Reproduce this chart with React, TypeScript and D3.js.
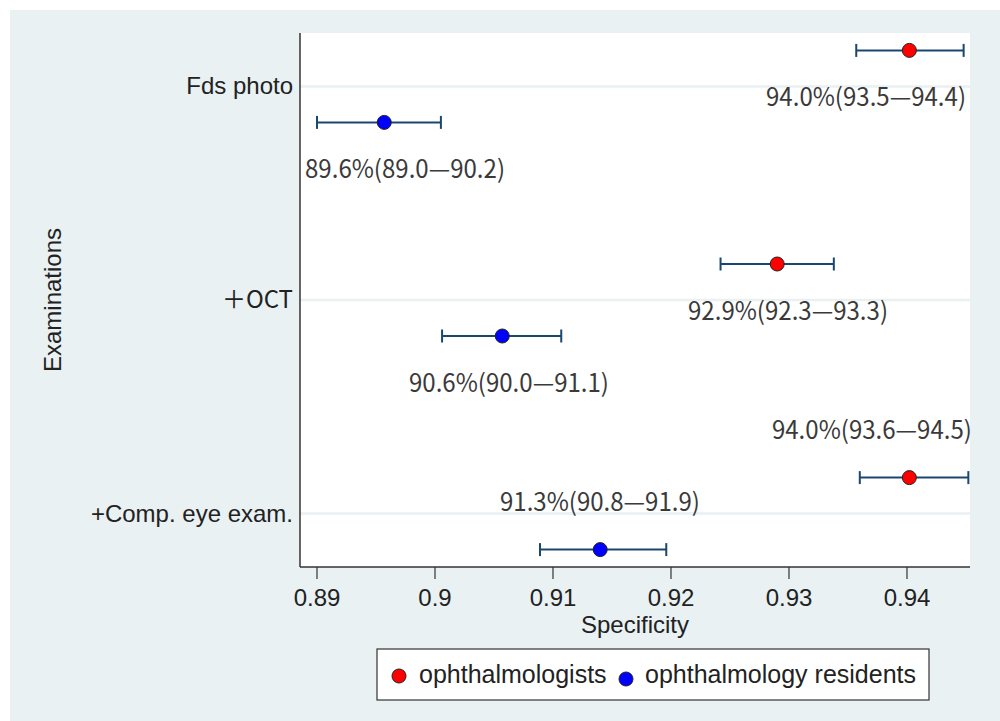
import React from "react";
import * as d3 from "d3";

// ---- data ----
const categories = ["Fds photo", "＋OCT", "+Comp. eye exam."];
const seriesNames = ["ophthalmologists", "ophthalmology residents"];

const ophthEst = [0.9402, 0.929, 0.9402];
const ophthLo = [0.9357, 0.9242, 0.936];
const ophthHi = [0.9448, 0.9338, 0.9452];
const ophthLabels = ["94.0%(93.5—94.4)", "92.9%(92.3—93.3)", "94.0%(93.6—94.5)"];
const ophthLabelX = [0.93653, 0.92992, 0.93703];
const ophthLabelSide = ["below", "below", "above"];

const residEst = [0.8957, 0.9057, 0.914];
const residLo = [0.89, 0.9006, 0.9089];
const residHi = [0.9005, 0.9107, 0.9196];
const residLabels = ["89.6%(89.0—90.2)", "90.6%(90.0—91.1)", "91.3%(90.8—91.9)"];
const residLabelX = [0.89746, 0.90627, 0.91398];
const residLabelSide = ["below", "below", "above"];

const xTicks = [0.89, 0.9, 0.91, 0.92, 0.93, 0.94];
const xDomain = [0.88856, 0.94534];

// ---- layout ----
const W = 1000;
const H = 721;
const plot = { left: 300, right: 970, top: 33, bottom: 567 };
const BG = "#e9f1f3";
const BAR = "#1a476f";
const sansFont = "Liberation Sans, Arial, sans-serif";
const labelFont = "'Noto Sans CJK JP', sans-serif";

export default function App() {
  const x = d3.scaleLinear().domain(xDomain).range([plot.left, plot.right]);
  const y = d3
    .scalePoint<string>()
    .domain(categories)
    .range([plot.top, plot.bottom])
    .padding(0.25);
  const off = 36;

  const series = [
    { name: seriesNames[0], est: ophthEst, lo: ophthLo, hi: ophthHi, labels: ophthLabels, lx: ophthLabelX, side: ophthLabelSide, color: "#ff0000", dy: -off },
    { name: seriesNames[1], est: residEst, lo: residLo, hi: residHi, labels: residLabels, lx: residLabelX, side: residLabelSide, color: "#0000ff", dy: off },
  ];

  return (
    <div style={{ position: "absolute", left: 0, top: 0 }}>
      <svg width={W} height={H} style={{ display: "block" }}>
        <rect x={0} y={0} width={W} height={H} fill="#ffffff" />
        <rect x={10} y={10} width={W - 10} height={H - 10} fill={BG} />
        <rect x={plot.left} y={plot.top} width={plot.right - plot.left} height={plot.bottom - plot.top} fill="#ffffff" />
        {/* grid lines */}
        {categories.map((c) => (
          <line key={c} x1={plot.left} x2={plot.right} y1={y(c)} y2={y(c)} stroke={BG} strokeWidth={2.5} />
        ))}
        {/* axes */}
        <line x1={plot.left} x2={plot.left} y1={plot.top} y2={plot.bottom} stroke="#333" strokeWidth={1.5} />
        <line x1={plot.left} x2={plot.right} y1={plot.bottom} y2={plot.bottom} stroke="#333" strokeWidth={1.5} />
        {xTicks.map((t) => (
          <g key={t}>
            <line x1={x(t)} x2={x(t)} y1={plot.bottom} y2={plot.bottom + 12} stroke="#333" strokeWidth={1.2} />
            <text x={x(t)} y={plot.bottom + 39} textAnchor="middle" fontFamily={sansFont} fontSize={24} fill="#222">
              {d3.format("")(t)}
            </text>
          </g>
        ))}
        <text x={(plot.left + plot.right) / 2} y={plot.bottom + 66} textAnchor="middle" fontFamily={sansFont} fontSize={24} fill="#222">
          Specificity
        </text>
        {/* y labels */}
        {categories.map((c) => (
          <text key={c} x={plot.left - 7} y={y(c)! + 8} textAnchor="end" fontFamily={c.startsWith("＋") ? labelFont : sansFont} fontSize={24} fill="#222">
            {c}
          </text>
        ))}
        <text transform={`translate(${61},${(plot.top + plot.bottom) / 2}) rotate(-90)`} textAnchor="middle" fontFamily={sansFont} fontSize={24} fill="#222">
          Examinations
        </text>
        {/* series */}
        {series.map((s) =>
          categories.map((c, i) => {
            const cy = y(c)! + s.dy;
            const ty = s.side[i] === "below" ? cy + 56 : cy - 39;
            return (
              <g key={s.name + c}>
                <line x1={x(s.lo[i])} x2={x(s.hi[i])} y1={cy} y2={cy} stroke={BAR} strokeWidth={2} />
                <line x1={x(s.lo[i])} x2={x(s.lo[i])} y1={cy - 6.5} y2={cy + 6.5} stroke={BAR} strokeWidth={2} />
                <line x1={x(s.hi[i])} x2={x(s.hi[i])} y1={cy - 6.5} y2={cy + 6.5} stroke={BAR} strokeWidth={2} />
                <circle cx={x(s.est[i])} cy={cy} r={7} fill={s.color} stroke="#222" strokeWidth={1} />
                <text x={x(s.lx[i])} y={ty} textAnchor="middle" fontFamily={labelFont} fontSize={25} textLength={200} lengthAdjust="spacingAndGlyphs" fill="#3a3a3a">
                  {s.labels[i]}
                </text>
              </g>
            );
          })
        )}
        {/* legend */}
        <rect x={377} y={649} width={552} height={51} fill="#ffffff" stroke="#333" strokeWidth={1.2} />
        <circle cx={399} cy={676} r={7} fill="#ff0000" stroke="#222" strokeWidth={1} />
        <text x={419} y={683} fontFamily={sansFont} fontSize={25} fill="#222">{seriesNames[0]}</text>
        <circle cx={626} cy={679} r={7} fill="#0000ff" stroke="#222" strokeWidth={1} />
        <text x={645} y={683} fontFamily={sansFont} fontSize={25} fill="#222">{seriesNames[1]}</text>
      </svg>
    </div>
  );
}
